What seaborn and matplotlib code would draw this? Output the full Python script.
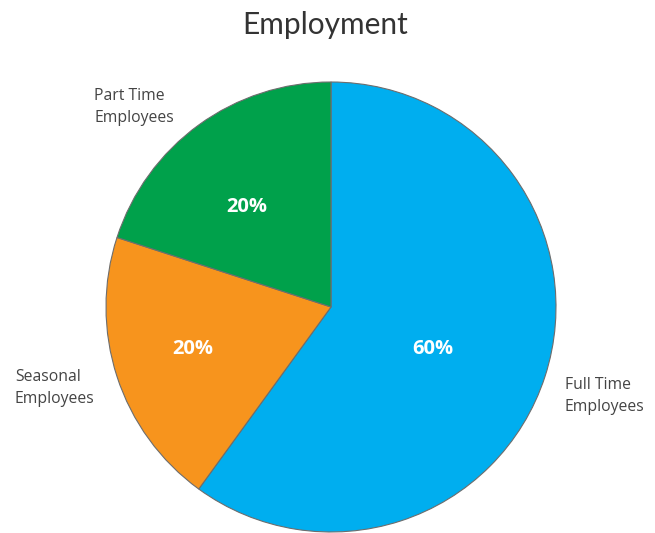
import numpy as np
import matplotlib
matplotlib.use("Agg")
import matplotlib.pyplot as plt
import seaborn as sns

# Employment breakdown
categories = ["Full Time\nEmployees", "Seasonal\nEmployees", "Part Time\nEmployees"]
shares = [60, 20, 20]
colors = ["#00AEEF", "#F7941D", "#00A14B"]

sns.set_theme(style="white")
plt.rcParams["font.family"] = ["Open Sans", "DejaVu Sans"]

W, H = 655, 533
fig = plt.figure(figsize=(W / 100, H / 100), dpi=100)
fig.patch.set_facecolor("white")

# pie centre and radius in pixels
cx, cy, r = 331, 307, 225
ax = fig.add_axes([(cx - r) / W, (H - cy - r) / H, 2 * r / W, 2 * r / H])
ax.set_aspect("equal")

wedges, _ = ax.pie(
    shares,
    colors=colors,
    startangle=90,
    counterclock=False,
    radius=1.0,
    wedgeprops=dict(edgecolor="#6d6d6d", linewidth=0.8),
)
ax.set_xlim(-1, 1)
ax.set_ylim(-1, 1)
ax.axis("off")

# percentage labels inside each wedge
pct_dist = [0.49, 0.64, 0.58]
pct_shift = [-4.6, -1.0, 4.0]
for w, v, d, s in zip(wedges, shares, pct_dist, pct_shift):
    ang = np.deg2rad((w.theta1 + w.theta2) / 2 + s)
    ax.text(d * np.cos(ang), d * np.sin(ang), f"{v}%",
            ha="center", va="center", color="white",
            fontsize=14.5, fontweight="bold")

# category labels outside the pie
label_pos = [(565, 396), (15, 388), (94, 107)]
for lab, (px, py) in zip(categories, label_pos):
    fig.text(px / W, 1 - py / H, lab, ha="left", va="center",
             fontsize=11.3, color="#444444", linespacing=1.45)

fig.text(0.496, 1 - 25 / H, "Employment", ha="center", va="center",
         fontsize=21.5, color="#333333", family=["Lato", "DejaVu Sans"])

fig.savefig("out.png", dpi=100, facecolor="white")
